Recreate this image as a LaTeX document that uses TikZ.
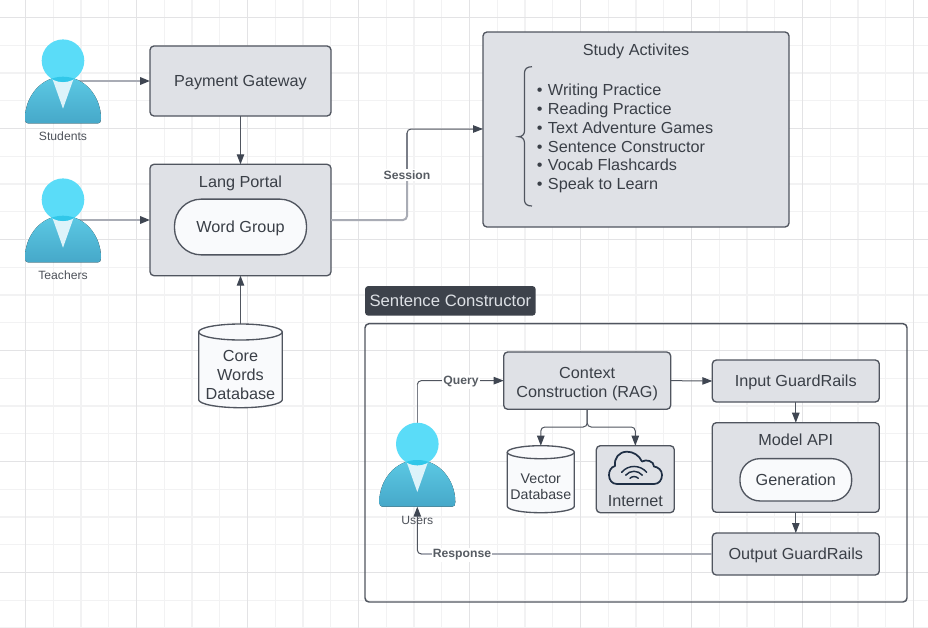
\documentclass[tikz,border=0pt]{standalone}
\usepackage{fontspec}
\setmainfont{Liberation Sans}[FakeStretch=1.015]
\usetikzlibrary{arrows.meta}
\definecolor{gmajor}{HTML}{E3E3E5}
\definecolor{gminor}{HTML}{F2F2F3}
\definecolor{boxfill}{HTML}{DFE1E6}
\definecolor{boxline}{HTML}{50555F}
\definecolor{ink}{HTML}{3A3F47}
\definecolor{pill}{HTML}{F9FAFC}
\definecolor{wire}{HTML}{50555F}
\definecolor{softwire}{HTML}{A9ACB5}
\definecolor{midwire}{HTML}{7A7E88}
\definecolor{tip}{HTML}{3F4652}
\definecolor{tag}{HTML}{3D424B}
\definecolor{tagtext}{HTML}{DDE0E5}
\definecolor{navy}{HTML}{1F2F45}
\definecolor{head}{HTML}{5ADCF8}
\definecolor{overlap}{HTML}{31C7E9}
\definecolor{bodytop}{HTML}{5CC9E4}
\definecolor{bodybot}{HTML}{46A8C9}
\definecolor{vee}{HTML}{DDF3FA}
\def\personbody{(-35,62.7) -- (35,62.7) .. controls (37,62.7) and (38,61) .. (38,58) .. controls (38,36) and (22,16) .. (0,16) .. controls (-22,16) and (-38,36) .. (-38,58) .. controls (-38,61) and (-37,62.7) .. (-35,62.7) -- cycle}
\newcommand{\bul}{\hbox to 8.25pt{•\hss}}
\tikzset{
  sz/.style 2 args={minimum width=#1*0.75pt, minimum height=#2*0.75pt, inner sep=0pt, outer sep=0pt},
  txt/.style={font=\fontsize{12pt}{14.2pt}\selectfont, text=ink, align=center, inner sep=0pt},
  single/.style={text height=8.6pt, text depth=0pt},
  box/.style={txt, draw=boxline, fill=boxfill, line width=1pt, rounded corners=3pt},
  capsule/.style={txt, draw=boxline, fill=pill, line width=1pt, rounded corners=15pt},
  hidden/.style={txt},
  who/.style={font=\fontsize{9pt}{11pt}\selectfont, text=ink!90, inner sep=0pt},
  edgelabel/.style={font=\bfseries\fontsize{9pt}{11pt}\selectfont, text=ink!85, fill=white, inner sep=1pt},
  link/.style={draw=wire, line width=0.75pt, -{Triangle[length=7.5pt,width=5.6pt,fill=tip,color=tip]}},
  softlink/.style={link, draw=softwire, line width=1.5pt},
  softpath/.style={draw=softwire, line width=1.5pt},
  midpath/.style={draw=midwire, line width=0.9pt},
  person/.pic={
    \fill[top color=bodytop, bottom color=bodybot] \personbody;
    \fill[vee] (-11,17) -- (11,17) -- (0,48) -- cycle;
    \fill[head] (0,0) circle[radius=21.3];
    \begin{scope}
      \clip (0,0) circle[radius=21.3];
      \fill[overlap] \personbody;
    \end{scope}
  },
  person/.default=,
}
\begin{document}
\begin{tikzpicture}[x=0.75pt,y=-0.75pt]
\useasboundingbox (0,0) rectangle (928,628);
\fill[white] (0,0) rectangle (928,628);
% grid
\foreach \k in {0,...,33} {
  \pgfmathsetmacro\gx{25.5+27.75*\k}
  \draw[gminor, line width=1pt] (\gx,0) -- (\gx,628);
}
\foreach \k in {0,...,22} {
  \pgfmathsetmacro\gy{17.5+27.75*\k}
  \draw[gminor, line width=1pt] (0,\gy) -- (928,\gy);
}
\foreach \k in {0,...,8} {
  \pgfmathsetmacro\gx{25.5+111*\k}
  \draw[gmajor, line width=1.2pt] (\gx,0) -- (\gx,628);
}
\foreach \k in {0,...,5} {
  \pgfmathsetmacro\gy{17.5+111*\k}
  \draw[gmajor, line width=1.2pt] (0,\gy) -- (928,\gy);
}
% person anchors
\node[sz={76}{84}] (student) at (63,81) {};
\node[sz={76}{84}] (teacher) at (63,220) {};
\node[sz={76}{84}] (users) at (417.3,464.7) {};
% boxes, top left
\node[box, single, sz={181}{70}] (pay) at (240.5,81) {Payment Gateway};
\node[box, sz={181}{111.4}] (portal) at (240.5,220) {};
\node[txt, single] (portaltitle) at (240.5,182) {Lang Portal};
\node[capsule, single, sz={132}{55.7}, rounded corners=20pt] (wordgroup) at (240.5,227) {Word Group};
% core database
\draw[boxline, fill=pill, line width=1pt] (198.7,332) -- (198.7,399.7) .. controls (198.7,404) and (217,407.7) .. (240.5,407.7) .. controls (264,407.7) and (282.3,404) .. (282.3,399.7) -- (282.3,332);
\draw[boxline, fill=pill, line width=1pt] (240.5,332) ellipse[x radius=41.8, y radius=8];
\node[hidden, sz={83.6}{83.7}] (core) at (240.5,365.85) {};
\node[txt, font=\fontsize{12pt}{13.9pt}\selectfont] (coretext) at (240.5,375) {Core\\Words\\Database};
% study box
\node[box, sz={306}{195}] (study) at (636,129.5) {};
\node[txt, single] (studytitle) at (636,50) {Study Activites};
\draw[boxline, line width=0.9pt] (532,66.7) .. controls (527,66.7) and (524.5,69) .. (524.5,73) -- (524.5,131) .. controls (524.5,134.5) and (522,136.7) .. (518.5,136.7) .. controls (522,136.7) and (524.5,139) .. (524.5,143) -- (524.5,200) .. controls (524.5,204) and (527,206) .. (532,206);
\node[txt, anchor=west, align=left, font=\fontsize{12pt}{14.05pt}\selectfont] (list) at (536.7,138.5) {%
  \bul Writing Practice\\
  \bul Reading Practice\\
  \bul Text Adventure Games\\
  \bul Sentence Constructor\\
  \bul Vocab Flashcards\\
  \bul Speak to Learn};
% sentence constructor container
\node[txt, single, sz={170.7}{29.7}, fill=tag, text=tagtext, rounded corners=2.5pt, font=\fontsize{12.35pt}{14.2pt}\selectfont] (tagbox) at (450.35,300.85) {Sentence Constructor};
\node[sz={542}{278.3}, draw=boxline, line width=1.1pt, rounded corners=3pt] (frame) at (636,462.85) {};
\node[box, sz={167}{57.3}] (context) at (587.2,380.65) {};
\node[txt] (contexttext) at (587.2,384) {Context\\Construction (RAG)};
\node[box, single, sz={167}{42}] (input) at (795.8,381) {Input GuardRails};
\node[box, sz={167}{89.6}] (model) at (795.8,467.5) {};
\node[txt, single] (modeltitle) at (795.8,440) {Model API};
\node[capsule, single, sz={111.7}{42.3}, rounded corners=15pt] (generation) at (795.8,479.8) {Generation};
\node[box, single, sz={167}{42}] (output) at (795.8,554) {Output GuardRails};
% vector database
\draw[boxline, fill=pill, line width=1pt] (507.3,452.2) -- (507.3,506.2) .. controls (507.3,510) and (522,512.7) .. (540.8,512.7) .. controls (559.6,512.7) and (574.3,510) .. (574.3,506.2) -- (574.3,452.2);
\draw[boxline, fill=pill, line width=1pt] (540.8,452.2) ellipse[x radius=33.5, y radius=6.5];
\node[hidden, sz={67}{67}] (vector) at (540.8,479.2) {};
\node[txt, font=\fontsize{10.5pt}{12.4pt}\selectfont] (vectortext) at (540.8,486.8) {Vector\\Database};
% internet
\node[box, sz={78}{67}] (internet) at (635.3,479.2) {};
\draw[navy, line width=1.3pt, line join=round] (617,484) -- (654,484) .. controls (659,484) and (662,480) .. (662,475) .. controls (662,470) and (658,467) .. (654,466.5) .. controls (654,461) and (646,459) .. (642,461.5) .. controls (639,455) and (633,451.7) .. (627,451.7) .. controls (619,451.7) and (614,458) .. (615,466) .. controls (611,467) and (609,471) .. (609,475) .. controls (609,480) and (612,484) .. (617,484) -- cycle;
\draw[navy, line width=1.1pt, line cap=round] (621.7,472.3) .. controls (628,464.5) and (640,464.5) .. (646.7,472.3);
\draw[navy, line width=1.1pt, line cap=round] (625.7,475.2) .. controls (630,470) and (638,470) .. (642.3,475.2);
\draw[navy, line width=1.1pt, line cap=round] (630,478.3) .. controls (632,476) and (636,476) .. (638.3,478.3);
\node[txt, single] (internettext) at (635.3,501) {Internet};
% connectors
\draw[softlink] (student.center) -- (pay.west);
\draw[softlink] (teacher.center) -- (portal.west);
\draw[link] (pay.south) -- (portal.north);
\draw[link] (core.north) -- (portal.south);
\coordinate (sessioncorner) at (407,129);
\coordinate (sessionmid) at (407,175);
\draw[softpath, rounded corners=3pt] (portal.east) -| (sessionmid);
\draw[midpath] (sessionmid) -- ([yshift=-3pt]sessioncorner);
\draw[link, rounded corners=3pt] ([yshift=-3pt]sessioncorner) |- (study.west |- sessioncorner);
\coordinate (querycorner) at (users.north |- context.west);
\draw[midpath] (users.north) -- ([yshift=-3pt]querycorner);
\draw[link, rounded corners=3pt] ([yshift=-3pt]querycorner) |- (context.west);
\draw[link] (context.east) -- (input.west);
\coordinate (bus) at (587.2,427);
\draw[link, rounded corners=3pt] (context.south) -- (bus) -| (vector.north);
\draw[link, rounded corners=3pt] (context.south) -- (bus) -| (internet.north);
\draw[link] (input.south) -- (model.north);
\draw[link] (model.south) -- (output.north);
% people
\pic at (63,60.7) {person};
\pic at (63,199.7) {person};
\pic at (417.3,444) {person};
\coordinate (returncorner) at (users.south |- output.west);
\draw[softpath] (output.west) -- ([xshift=3pt]returncorner);
\draw[link, rounded corners=3pt] ([xshift=3pt]returncorner) -| (users.south);
\node[who] (studentlabel) at (63,136.5) {Students};
\node[who] (teacherlabel) at (63,275.5) {Teachers};
\node[who] (userlabel) at (417.3,520) {Users};
\node[edgelabel] (sessionlabel) at (407,175) {Session};
\node[edgelabel] (querylabel) at (461,382) {Query};
\node[edgelabel] (responselabel) at (462,555) {Response};
\end{tikzpicture}
\end{document}
